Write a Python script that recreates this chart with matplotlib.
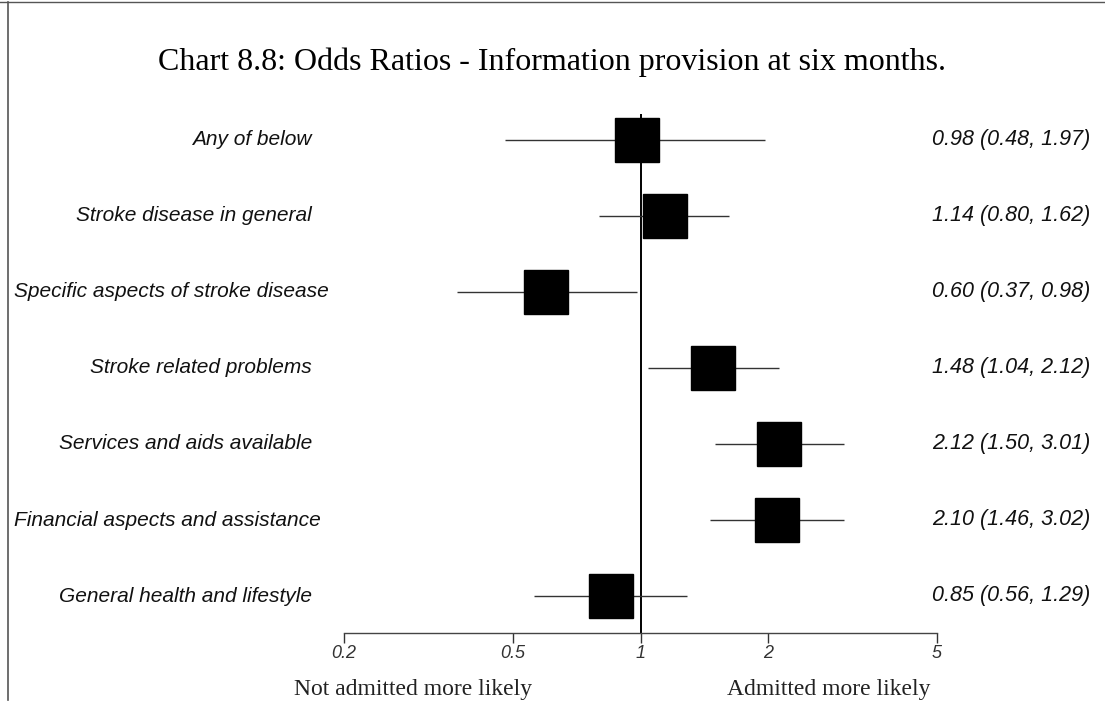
import matplotlib
matplotlib.use('Agg')
import matplotlib.pyplot as plt
from matplotlib.lines import Line2D
from matplotlib.ticker import FixedLocator, NullLocator
import matplotlib.transforms as mtransforms

# odds ratios with 95% confidence intervals, one row per information type
categories = ['Any of below', 'Stroke disease in general', 'Specific aspects of stroke disease',
              'Stroke related problems', 'Services and aids available',
              'Financial aspects and assistance', 'General health and lifestyle']
odds = [0.98, 1.14, 0.60, 1.48, 2.12, 2.10, 0.85]
ci_low = [0.48, 0.80, 0.37, 1.04, 1.50, 1.46, 0.56]
ci_high = [1.97, 1.62, 0.98, 2.12, 3.01, 3.02, 1.29]
tick_values = [0.2, 0.5, 1, 2, 5]
tick_labels = ['0.2', '0.5', '1', '2', '5']

W, H = 1105, 715
fig = plt.figure(figsize=(W / 100, H / 100), dpi=100)

# plotting area in pixel terms: x from 0.2 to 5, rows from the top reference line to the axis
x0, x1 = 344, 937
y_top, y_axis = 114, 633
ax = fig.add_axes([x0 / W, (H - y_axis) / H, (x1 - x0) / W, (y_axis - y_top) / H])
ax.set_xscale('log')
ax.set_xlim(0.2, 5)
row_gap = 76
first_row = 140
ax.set_ylim((y_axis - first_row) / row_gap, (y_top - first_row) / row_gap)

rows = list(range(len(categories)))
ax.axvline(1, color='black', lw=1.4, zorder=1)
ax.hlines(rows, ci_low, ci_high, color='#333333', lw=1.0, zorder=2)
ax.plot(odds, rows, 's', color='black', markersize=31, zorder=3)

for side in ['top', 'right', 'left']:
    ax.spines[side].set_visible(False)
ax.spines['bottom'].set_color('#444444')
ax.spines['bottom'].set_linewidth(1.0)
ax.yaxis.set_major_locator(NullLocator())
ax.xaxis.set_major_locator(FixedLocator(tick_values))
ax.xaxis.set_minor_locator(NullLocator())
ax.set_xticklabels(tick_labels, fontsize=13, fontstyle='italic', color='#333333',
                   family='Liberation Sans')
ax.tick_params(axis='x', direction='out', length=7, width=1, color='#333333', pad=2)

# row labels on the left (kept inside the frame), estimates on the right
trans = mtransforms.blended_transform_factory(fig.transFigure, ax.transData)
renderer = fig.canvas.get_renderer()
for i, name in enumerate(categories):
    t = ax.text(312 / W, i, name, transform=trans, ha='right', va='center', fontsize=15,
                fontstyle='italic', family='Liberation Sans', color='#111111')
    left = t.get_window_extent(renderer).x0
    if left < 14:
        t.set_x((312 + 14 - left) / W)
    ax.text(1090 / W, i, f'{odds[i]:.2f} ({ci_low[i]:.2f}, {ci_high[i]:.2f})',
            transform=trans, ha='right', va='center', fontsize=15.5,
            fontstyle='italic', family='Liberation Sans', color='#111111')

fig.text(552 / W, 1 - 62 / H, 'Chart 8.8: Odds Ratios - Information provision at six months.',
         ha='center', va='center', fontsize=23, family='Liberation Serif')
fig.text(413 / W, 1 - 689 / H, 'Not admitted more likely', ha='center', va='center',
         fontsize=17, family='Liberation Serif', color='#222222')
fig.text(829 / W, 1 - 689 / H, 'Admitted more likely', ha='center', va='center',
         fontsize=17, family='Liberation Serif', color='#222222')

# page frame: top rule and left rule
fig.add_artist(Line2D([0, 1], [1 - 2 / H, 1 - 2 / H], color='#555555', lw=1.0))
fig.add_artist(Line2D([8 / W, 8 / W], [1 - 2 / H, 1 - 700 / H], color='#555555', lw=1.2))

fig.savefig('out.png', dpi=100)
